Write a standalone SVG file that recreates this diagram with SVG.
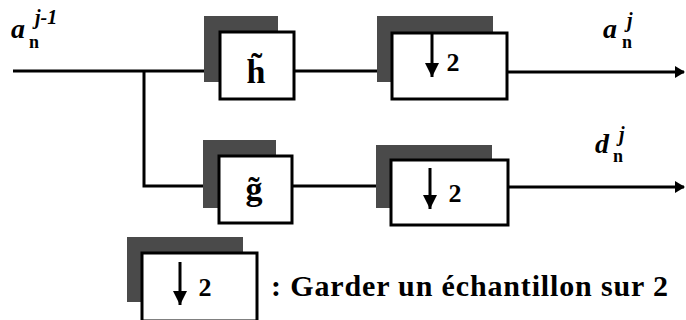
<svg xmlns="http://www.w3.org/2000/svg" width="686" height="320" viewBox="0 0 686 320">
<style>
.sh{fill:#4a4a4a;}
.bx{fill:#fff;stroke:#000;stroke-width:3;}
.ln{fill:none;stroke:#000;stroke-width:3;}
.t{font-family:"Liberation Serif","Times New Roman",serif;font-weight:bold;fill:#000;}
.m{font-family:"Liberation Serif","Times New Roman",serif;font-weight:bold;font-style:italic;fill:#000;}
</style>
<defs>
<marker id="ah" markerWidth="10" markerHeight="12" refX="9" refY="6" orient="auto" markerUnits="userSpaceOnUse">
<path d="M0,0 L10,6 L0,12 Z" fill="#000"/>
</marker>
<marker id="dh" markerWidth="14" markerHeight="14" refX="7" refY="14" orient="0" markerUnits="userSpaceOnUse">
<path d="M0,0 L14,0 L7,14 Z" fill="#000"/>
</marker>
</defs>
<g id="connectors">
<path class="ln" d="M13,71 L204,71"/>
<path class="ln" d="M144,71 L144,186 L203,186"/>
<path class="ln" d="M294,71 L377,71"/>
<path class="ln" d="M292,186 L376,186"/>
<path class="ln" d="M507,72 L684,72" marker-end="url(#ah)"/>
<path class="ln" d="M508,187 L684,187" marker-end="url(#ah)"/>
</g>
<g id="h">
<rect class="sh" x="204" y="16" width="74" height="66"/>
<rect class="bx" x="220" y="32" width="74" height="67"/>
<text class="t" x="256" y="83" font-size="34" text-anchor="middle">h̃</text>
</g>
<g id="down1">
<rect class="sh" x="377" y="16" width="116" height="66"/>
<rect class="bx" x="392" y="33" width="115" height="66"/>
<path class="ln" d="M432,33 L432,77" marker-end="url(#dh)"/>
<text class="t" x="453" y="71" font-size="26" text-anchor="middle">2</text>
</g>
<g id="g">
<rect class="sh" x="203" y="140" width="73" height="68"/>
<rect class="bx" x="219" y="156" width="73" height="67"/>
<text class="t" x="254" y="200" font-size="34" text-anchor="middle">g̃</text>
</g>
<g id="down2">
<rect class="sh" x="376" y="145" width="116" height="63"/>
<rect class="bx" x="391" y="160" width="117" height="65"/>
<path class="ln" d="M430,168 L430,209" marker-end="url(#dh)"/>
<text class="t" x="455" y="202" font-size="26" text-anchor="middle">2</text>
</g>
<g id="legend">
<rect class="sh" x="127" y="237" width="116" height="65"/>
<rect class="bx" x="142" y="253" width="115" height="68"/>
<path class="ln" d="M180,262 L180,305" marker-end="url(#dh)"/>
<text class="t" x="205" y="296" font-size="26" text-anchor="middle">2</text>
<text class="t" x="271" y="296" font-size="30" textLength="397" lengthAdjust="spacing">: Garder un échantillon sur 2</text>
</g>
<g id="labels">
<text class="m" x="11" y="38" font-size="28">a<tspan x="29" y="48" font-size="18" font-style="normal">n</tspan><tspan x="35" y="24" font-size="20">j-1</tspan></text>
<text class="m" x="603" y="38" font-size="28">a<tspan x="622" y="48" font-size="18" font-style="normal">n</tspan><tspan x="627" y="27" font-size="20">j</tspan></text>
<text class="m" x="595" y="153" font-size="28">d<tspan x="613" y="162" font-size="18" font-style="normal">n</tspan><tspan x="619" y="141" font-size="20">j</tspan></text>
</g>
</svg>
